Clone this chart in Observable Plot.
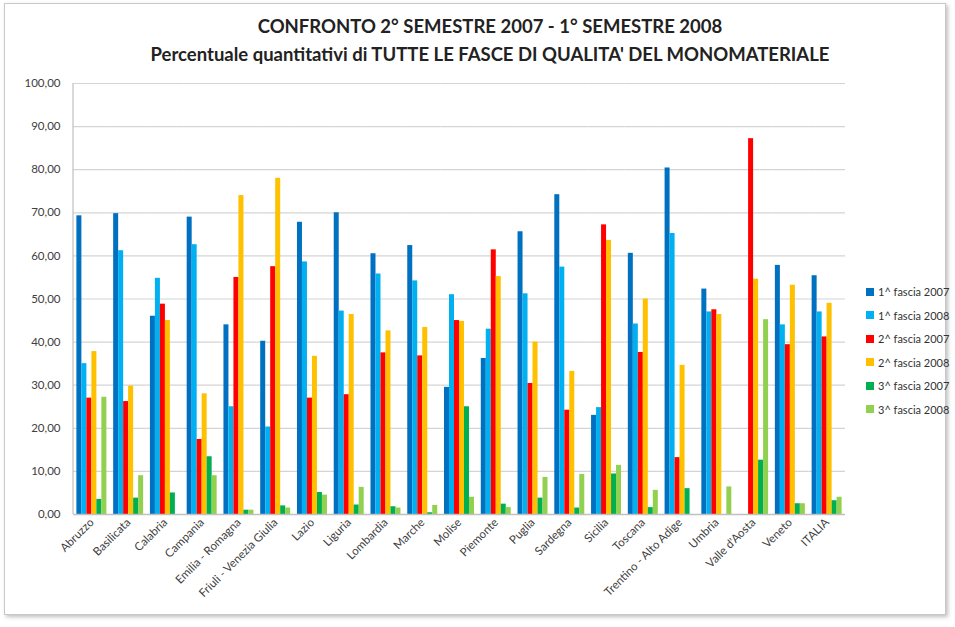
<!DOCTYPE html>
<html><head><meta charset="utf-8">
<script src="https://cdn.jsdelivr.net/npm/d3@7"></script>
<script src="https://cdn.jsdelivr.net/npm/@observablehq/plot@0.6"></script>
<style>
body{margin:0;background:#fff;font-family:Lato,"Open Sans",sans-serif;}
#wrap{position:relative;width:955px;height:627px;overflow:hidden;}
#frame{position:absolute;left:4px;top:3px;width:940px;height:610px;border:1px solid #c8c8c8;box-shadow:2px 2px 4px rgba(0,0,0,0.25);}
#title{position:absolute;left:0;top:12px;width:980px;text-align:center;font-weight:bold;font-size:18.5px;color:#222;line-height:28px;}
#chart{position:absolute;left:0;top:70px;}
#legend{position:absolute;left:866px;top:280px;font-size:11px;color:#333;}
#legend div{height:23.5px;display:flex;align-items:center;}
#legend span.sw{display:inline-block;width:8px;height:8px;margin-right:4px;}
</style></head>
<body><div id="wrap"><div id="frame"></div>
<div id="title">CONFRONTO 2° SEMESTRE 2007 - 1° SEMESTRE 2008<br>Percentuale quantitativi di TUTTE LE FASCE DI QUALITA' DEL MONOMATERIALE</div>
<div id="chart"></div><div id="legend"></div></div>
<script>
const regions = ["Abruzzo","Basilicata","Calabria","Campania","Emilia - Romagna","Friuli - Venezia Giulia","Lazio","Liguria","Lombardia","Marche","Molise","Piemonte","Puglia","Sardegna","Sicilia","Toscana","Trentino - Alto Adige","Umbria","Valle d'Aosta","Veneto","ITALIA"];
const seriesNames = ["1^ fascia 2007","1^ fascia 2008","2^ fascia 2007","2^ fascia 2008","3^ fascia 2007","3^ fascia 2008"];
const colors = ["#0070C0","#00B0F0","#FF0000","#FFC000","#00B050","#92D050"];
const fascia1_2007 = [69.3,69.8,46.0,69.0,44.0,40.2,67.8,70.0,60.5,62.4,29.5,36.2,65.6,74.2,23.0,60.6,80.4,52.3,0,57.8,55.4];
const fascia1_2008 = [35.0,61.2,54.8,62.6,25.0,20.3,58.6,47.2,55.8,54.2,51.0,43.0,51.2,57.4,24.8,44.2,65.2,47.0,0,44.0,47.0];
const fascia2_2007 = [27.0,26.2,48.8,17.4,55.0,57.5,27.0,27.8,37.5,36.8,45.0,61.4,30.4,24.2,67.2,37.6,13.2,47.5,87.2,39.4,41.2];
const fascia2_2008 = [37.8,29.8,45.0,28.0,74.0,78.0,36.7,46.4,42.6,43.4,44.8,55.2,40.0,33.2,63.6,50.0,34.6,46.4,54.6,53.2,49.0];
const fascia3_2007 = [3.5,3.8,5.0,13.4,1.0,2.0,5.1,2.2,1.8,0.4,25.0,2.4,3.8,1.5,9.4,1.6,6.0,0,12.6,2.5,3.2];
const fascia3_2008 = [27.2,9.0,0,9.0,1.0,1.5,4.5,6.3,1.5,2.1,4.0,1.6,8.6,9.3,11.4,5.6,0,6.4,45.2,2.5,4.0];
const yTicks = [0,10,20,30,40,50,60,70,80,90,100];

const allSeries = [fascia1_2007,fascia1_2008,fascia2_2007,fascia2_2008,fascia3_2007,fascia3_2008];
const table = [];
regions.forEach((r,i)=>allSeries.forEach((s,j)=>table.push({region:r,series:seriesNames[j],value:s[i]})));
const fmt = d => d3.format(".2f")(d).replace(".",",");

const chart = Plot.plot({
  width:955, height:557,
  marginTop:13, marginBottom:113, marginLeft:73, marginRight:110,
  style:{fontFamily:"Lato, 'Open Sans', sans-serif", fontSize:"11.5px", color:"#404040", background:"transparent"},
  fx:{domain:regions, padding:0, round:false, label:null, tickRotate:-45, tickSize:0, tickPadding:6},
  x:{domain:seriesNames, paddingInner:0, paddingOuter:0.68, round:false, axis:null},
  y:{domain:[0,100], ticks:yTicks, tickFormat:fmt, label:null, tickSize:0, tickPadding:13},
  color:{domain:seriesNames, range:colors},
  marks:[
    Plot.ruleY(yTicks,{stroke:"#d4d4d4", strokeWidth:1.2}),
    Plot.barY(table,{fx:"region", x:"series", y:"value", fill:"series"}),
    Plot.ruleY([0],{stroke:"#c0c0c0", strokeWidth:1.5})
  ]
});
document.getElementById("chart").appendChild(chart);
const svg = d3.select(chart);
svg.append("line").attr("x1",73).attr("x2",73).attr("y1",13).attr("y2",444).attr("stroke","#c0c0c0").attr("stroke-width",1.2);

const leg = document.getElementById("legend");
seriesNames.forEach((s,i)=>{const d=document.createElement("div");d.innerHTML=`<span class="sw" style="background:${colors[i]}"></span>${s}`;leg.appendChild(d);});
</script></body></html>
